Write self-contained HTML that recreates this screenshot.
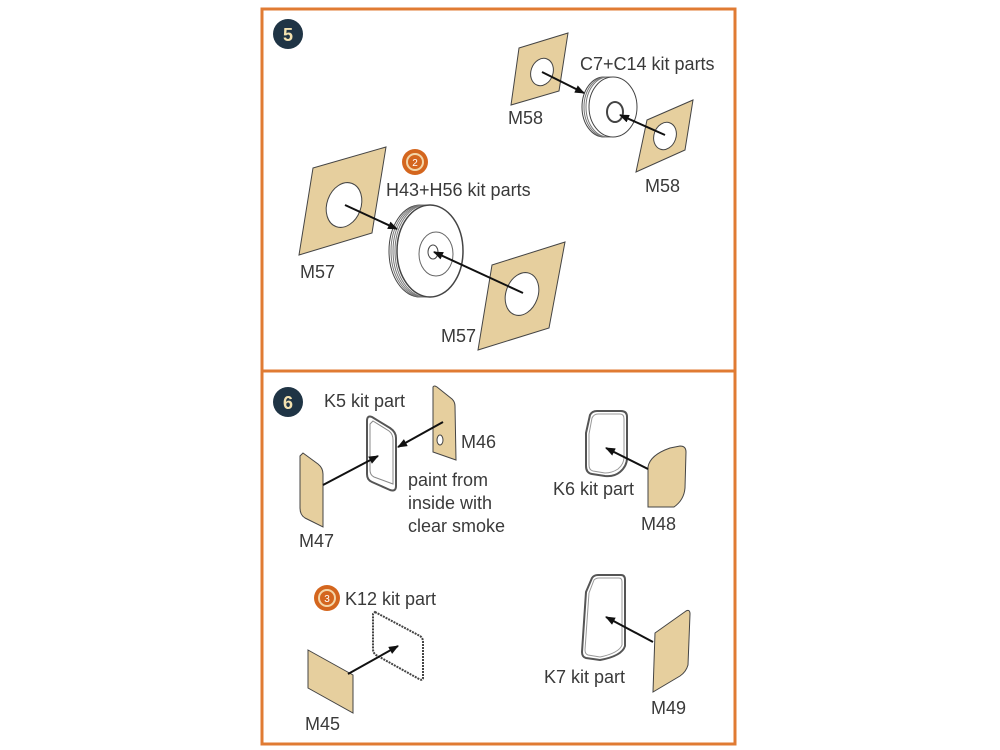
<!DOCTYPE html>
<html><head><meta charset="utf-8"><style>
html,body{margin:0;padding:0;background:#fff;width:1000px;height:750px;overflow:hidden}
svg{display:block}
text{font-family:"Liberation Sans",sans-serif;font-size:18px;fill:#3a3a3a}
</style></head><body>
<svg width="1000" height="750" viewBox="0 0 1000 750">
<defs>
<marker id="ah" markerWidth="10" markerHeight="8" refX="9" refY="4" orient="auto" markerUnits="userSpaceOnUse">
<path d="M0,0 L10,4 L0,8 Z" fill="#111"/></marker>
</defs>
<rect x="262" y="9" width="473" height="735" fill="#fff" stroke="#e07b33" stroke-width="3"/>
<line x1="262" y1="371" x2="735" y2="371" stroke="#e07b33" stroke-width="3"/>

<!-- Step 5 -->
<circle cx="288" cy="34" r="15" fill="#1f3445"/>
<text x="288" y="41" text-anchor="middle" style="font-weight:bold;fill:#f3e2b0;font-size:18px">5</text>

<!-- top M58 -->
<polygon points="519,48 568,33 559,91 511,105" fill="#e6cf9e" stroke="#444" stroke-width="1"/>
<ellipse cx="542" cy="72" rx="11" ry="14" transform="rotate(20 542 72)" fill="#fff" stroke="#444"/>
<!-- small wheel -->
<ellipse cx="604" cy="107" rx="22" ry="30" fill="#fff" stroke="#444"/>
<ellipse cx="606" cy="107" rx="22" ry="30" fill="none" stroke="#777"/>
<ellipse cx="608" cy="107" rx="22" ry="30" fill="none" stroke="#777"/>
<ellipse cx="613" cy="107" rx="24" ry="30" fill="#fff" stroke="#444"/>
<ellipse cx="615" cy="112" rx="8" ry="10" fill="#fff" stroke="#444" stroke-width="2"/>
<line x1="542" y1="72" x2="584" y2="93" stroke="#111" stroke-width="2" marker-end="url(#ah)"/>
<polygon points="647,120 693,100 685,150 636,172" fill="#e6cf9e" stroke="#444"/>
<ellipse cx="665" cy="136" rx="11" ry="14" transform="rotate(20 665 136)" fill="#fff" stroke="#444"/>
<line x1="665" y1="135" x2="620" y2="115" stroke="#111" stroke-width="2" marker-end="url(#ah)"/>
<text x="580" y="70">C7+C14 kit parts</text>
<text x="508" y="124">M58</text>
<text x="645" y="192">M58</text>

<!-- big M57 -->
<polygon points="313,168 386,147 372,233 299,255" fill="#e6cf9e" stroke="#444"/>
<ellipse cx="344" cy="205" rx="17" ry="23" transform="rotate(20 344 205)" fill="#fff" stroke="#444"/>
<ellipse cx="420" cy="251" rx="31" ry="46" fill="#fff" stroke="#444"/>
<ellipse cx="422" cy="251" rx="31" ry="46" fill="none" stroke="#777"/>
<ellipse cx="424" cy="251" rx="31" ry="46" fill="none" stroke="#777"/>
<ellipse cx="426" cy="251" rx="31" ry="46" fill="none" stroke="#777"/>
<ellipse cx="430" cy="251" rx="33" ry="46" fill="#fff" stroke="#444" stroke-width="1.5"/>
<ellipse cx="436" cy="254" rx="17" ry="22" fill="#fff" stroke="#666"/>
<ellipse cx="433" cy="252" rx="5" ry="7" fill="#fff" stroke="#444"/>
<line x1="345" y1="205" x2="397" y2="229" stroke="#111" stroke-width="2" marker-end="url(#ah)"/>
<polygon points="492,265 565,242 549,328 478,350" fill="#e6cf9e" stroke="#444"/>
<ellipse cx="522" cy="294" rx="16" ry="22" transform="rotate(20 522 294)" fill="#fff" stroke="#444"/>
<line x1="523" y1="293" x2="434" y2="252" stroke="#111" stroke-width="2" marker-end="url(#ah)"/>
<circle cx="415" cy="162" r="13" fill="#d4661e"/>
<circle cx="415" cy="162" r="8" fill="none" stroke="#f3d6a8" stroke-width="2"/>
<text x="415" y="166" text-anchor="middle" style="font-size:10px;fill:#fff">2</text>
<text x="386" y="196">H43+H56 kit parts</text>
<text x="300" y="278">M57</text>
<text x="441" y="342">M57</text>

<!-- Step 6 -->
<circle cx="288" cy="402" r="15" fill="#1f3445"/>
<text x="288" y="409" text-anchor="middle" style="font-weight:bold;fill:#f3e2b0">6</text>
<text x="324" y="407">K5 kit part</text>
<path d="M433,387 Q434,385 437,387 L452,399 Q455,402 455,406 L456,460 L433,452 Z" fill="#e6cf9e" stroke="#444"/>
<ellipse cx="440" cy="440" rx="3" ry="5" fill="#fff" stroke="#444"/>
<path d="M372,417 L390,428 Q396,432 396,438 L396,486 Q396,492 390,490 L372,482 Q367,480 367,474 L367,421 Q367,415 372,417 Z" fill="#fff" stroke="#555" stroke-width="2"/>
<path d="M373,421 L389,431 Q393,434 393,440 L393,484 L374,477 Q370,475 370,470 L370,424 Z" fill="none" stroke="#888"/>
<line x1="443" y1="422" x2="398" y2="447" stroke="#111" stroke-width="2" marker-end="url(#ah)"/>
<path d="M303,453 L318,464 Q323,468 323,474 L323,527 L305,518 Q300,515 300,508 L300,456 Z" fill="#e6cf9e" stroke="#444"/>
<line x1="323" y1="485" x2="378" y2="456" stroke="#111" stroke-width="2" marker-end="url(#ah)"/>
<text x="408" y="486">paint from</text>
<text x="408" y="509">inside with</text>
<text x="408" y="532">clear smoke</text>
<text x="299" y="547">M47</text>
<text x="461" y="448">M46</text>

<path d="M590,415 Q592,411 597,411 L621,411 Q627,411 627,417 L627,458 Q627,466 620,472 Q614,477 605,476 L592,474 Q586,473 586,466 L586,433 Z" fill="#fff" stroke="#555" stroke-width="2"/>
<path d="M592,418 Q594,414 598,414 L620,414 Q624,414 624,419 L624,457 Q624,464 618,469 Q612,473 605,473 L593,471 Q589,470 589,465 L589,434 Z" fill="none" stroke="#999"/>
<path d="M648,467 Q650,455 670,448 L680,446 Q686,446 686,452 L685,488 Q684,500 674,507 L648,507 Z" fill="#e6cf9e" stroke="#444"/>
<line x1="648" y1="469" x2="606" y2="448" stroke="#111" stroke-width="2" marker-end="url(#ah)"/>
<text x="553" y="495">K6 kit part</text>
<text x="641" y="530">M48</text>

<circle cx="327" cy="598" r="13" fill="#d4661e"/>
<circle cx="327" cy="598" r="8" fill="none" stroke="#f3d6a8" stroke-width="2"/>
<text x="327" y="602" text-anchor="middle" style="font-size:10px;fill:#fff">3</text>
<text x="345" y="605">K12 kit part</text>
<path d="M375,612 L420,636 Q423,638 423,642 L423,678 Q423,681 419,679 L376,655 Q373,653 373,649 L373,614 Z" fill="#fff" stroke="#444" stroke-width="2" stroke-dasharray="2,1"/>
<polygon points="308,650 353,675 353,713 308,688" fill="#e6cf9e" stroke="#444"/>
<line x1="348" y1="674" x2="398" y2="646" stroke="#111" stroke-width="2" marker-end="url(#ah)"/>
<text x="305" y="730">M45</text>

<path d="M586,592 L592,578 Q594,575 598,575 L621,575 Q625,575 625,580 L625,646 Q622,656 600,660 L586,658 Q582,657 582,652 Z" fill="#fff" stroke="#555" stroke-width="2"/>
<path d="M589,593 L594,580 Q596,578 599,578 L619,578 Q622,578 622,582 L622,645 Q619,653 600,657 L588,655 Q585,654 585,650 Z" fill="none" stroke="#999"/>
<path d="M655,633 L686,611 Q690,609 690,614 L688,665 Q686,672 680,676 L653,692 Z" fill="#e6cf9e" stroke="#444"/>
<line x1="653" y1="642" x2="606" y2="617" stroke="#111" stroke-width="2" marker-end="url(#ah)"/>
<text x="544" y="683">K7 kit part</text>
<text x="651" y="714">M49</text>
</svg>
</body></html>
